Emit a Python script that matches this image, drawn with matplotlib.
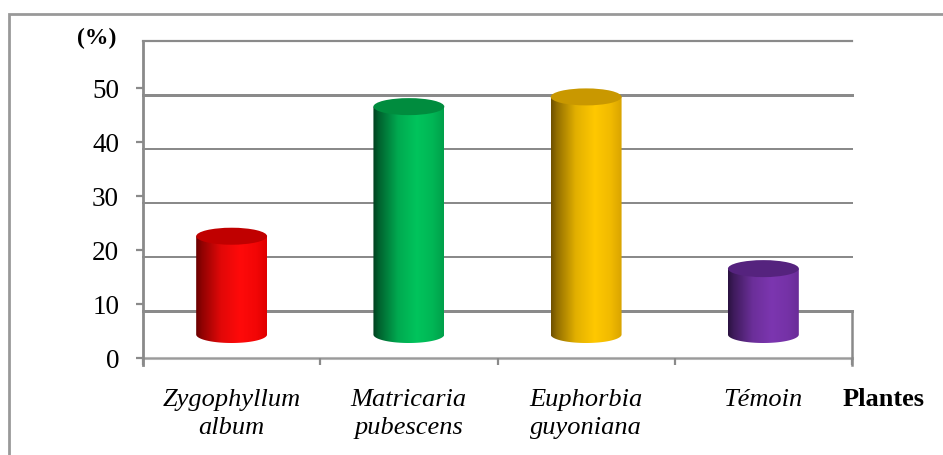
import numpy as np
import matplotlib
matplotlib.use("Agg")
import matplotlib.pyplot as plt
from matplotlib.patches import Ellipse, PathPatch, Rectangle
from matplotlib.path import Path
from matplotlib.lines import Line2D

# ---- data ----
categories = ["Zygophyllum\nalbum", "Matricaria\npubescens", "Euphorbia\nguyoniana", "Témoin"]
values = [18.2, 42.2, 44.0, 12.2]
y_ticks = [0, 10, 20, 30, 40, 50]
y_label = "(%)"
x_label = "Plantes"

# cylinder colours: dark left edge, lit face, right edge, top cap
side_dark = ["#6a0000", "#00401f", "#6e5000", "#2a1240"]
side_lit = ["#ff0a0a", "#00c45c", "#ffc800", "#7c36b0"]
side_right = ["#e00000", "#00a04a", "#d9a400", "#6a2c98"]
top_cap = ["#c00000", "#008c3e", "#c99800", "#55237e"]

W, H = 943, 455
fig = plt.figure(figsize=(W / 100, H / 100), dpi=100)

# front plane of the plot box (pixels from the top-left corner)
x0, x1 = 143, 852
y_front0, y_front50 = 358, 88
ax = fig.add_axes([x0 / W, (H - y_front0) / H, (x1 - x0) / W, (y_front0 - y_front50) / H])
ax.set_xlim(-0.5, len(categories) - 0.5)
ax.set_ylim(0, 50)
ax.patch.set_alpha(0)
for s in ax.spines.values():
    s.set_visible(False)

px_per_unit = (y_front0 - y_front50) / 50.0
depth = 47 / px_per_unit          # shift of the back wall, in value units
mid = depth / 2.0                 # cylinders stand half way into the depth

grid_col = "#8a8a8a"
light_col = "#b8b8b8"

# back wall gridlines
grid_widths = {0: 3.0, 10: 2.0, 20: 2.0, 30: 2.0, 40: 3.0, 50: 2.2}
for v in y_ticks:
    ax.add_line(Line2D([-0.5, len(categories) - 0.5], [v + depth, v + depth],
                       color=grid_col, lw=grid_widths[v] * 0.72, clip_on=False, zorder=1))

# floor front edge and right edge, left axis line
ax.add_line(Line2D([-0.5, len(categories) - 0.5], [0, 0], color=light_col, lw=2.2,
                   clip_on=False, zorder=1))
ax.add_line(Line2D([-0.5, len(categories) - 0.5], [0, 0], color="#9a9a9a", lw=0.8,
                   clip_on=False, zorder=1))
ax.add_line(Line2D([len(categories) - 0.5] * 2, [-7 / px_per_unit, depth], color=grid_col,
                   lw=1.8, clip_on=False, zorder=1))
ax.add_line(Line2D([-0.5, -0.5], [-7 / px_per_unit, 50 + depth], color=grid_col, lw=2.0,
                   clip_on=False, zorder=1))

# ticks
ax.set_yticks(y_ticks)
ax.set_yticklabels([str(t) for t in y_ticks], family="Liberation Serif", fontsize=19.5)
ax.tick_params(axis="y", direction="out", length=5.2, width=1.6, color=grid_col, pad=12)
ax.set_xticks(range(len(categories)))
ax.set_xticklabels(categories, family="Liberation Serif", fontstyle="italic", fontsize=19,
                   linespacing=1.35)
ax.set_xticks(np.arange(-0.5, len(categories), 1.0), minor=True)
ax.tick_params(axis="x", which="major", length=0, pad=22)
ax.tick_params(axis="x", which="minor", direction="out", length=5.2, width=1.6, color=grid_col)

# cylinders
half_w = 0.2
cap_b = 8.5 / px_per_unit
t = np.linspace(0, 1, 200)
prof = np.interp(t, [0, 0.08, 0.35, 0.62, 0.85, 1.0], [0.0, 0.25, 0.8, 1.0, 0.9, 0.75])

def mix(c1, c2, f):
    a = np.array(matplotlib.colors.to_rgb(c1))
    b = np.array(matplotlib.colors.to_rgb(c2))
    return a + (b - a) * f

for i, v in enumerate(values):
    base = mid
    top = v + mid
    cols = []
    for tt, p in zip(t, prof):
        if tt <= 0.62:
            cols.append(mix(side_dark[i], side_lit[i], p))
        else:
            cols.append(mix(side_right[i], side_lit[i], (p - 0.75) / 0.25))
    grad = np.array(cols)[None, :, :]
    im = ax.imshow(grad, extent=(i - half_w, i + half_w, base - cap_b, top),
                   aspect="auto", interpolation="bilinear", zorder=3)
    th = np.linspace(np.pi, 2 * np.pi, 60)
    verts = [(i - half_w, top), (i - half_w, base)]
    verts += list(zip(i + half_w * np.cos(th), base + cap_b * np.sin(th)))
    verts += [(i + half_w, top), (i - half_w, top)]
    codes = [Path.MOVETO] + [Path.LINETO] * (len(verts) - 2) + [Path.CLOSEPOLY]
    clip = PathPatch(Path(verts, codes), transform=ax.transData, facecolor="none", edgecolor="none")
    ax.add_patch(clip)
    im.set_clip_path(clip)
    ax.add_patch(Ellipse((i, top), 2 * half_w, 2 * cap_b, facecolor=top_cap[i],
                         edgecolor="none", zorder=4, clip_on=False))

ax.set_xlim(-0.5, len(categories) - 0.5)
ax.set_ylim(0, 50)

# axis titles
fig.text(97 / W, 1 - 38 / H, y_label, family="Liberation Serif", fontweight="bold",
         fontsize=17, ha="center", va="center")
fig.text(884 / W, 1 - 400 / H, x_label, family="Liberation Serif", fontweight="bold",
         fontsize=19, ha="center", va="center")

# outer chart frame
fig.add_artist(Rectangle((9 / W, -0.2), 1.2, (H - 14) / H + 0.2, transform=fig.transFigure,
                         facecolor="none", edgecolor="#999999", lw=2.0))

fig.savefig("out.png", dpi=100, facecolor="white")
